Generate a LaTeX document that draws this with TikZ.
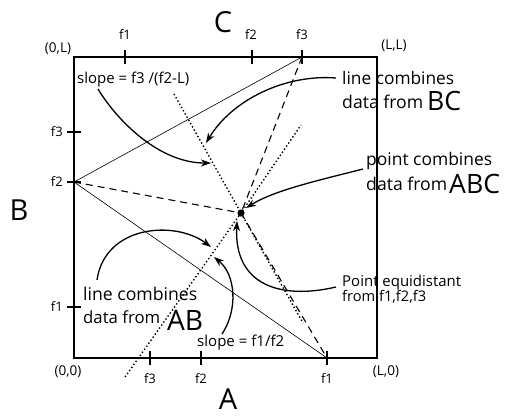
\documentclass[tikz,border=0pt]{standalone}
\usepackage{fontspec}
\usepackage{graphicx}
\setmainfont{Open Sans}
\usetikzlibrary{arrows.meta}
\newcommand{\fitw}[2]{\resizebox{#1pt}{!}{#2}}
\begin{document}
\begin{tikzpicture}[x=1pt,y=-1pt,
  boxline/.style={line width=2.6pt},
  tickline/.style={line width=2.6pt},
  thinline/.style={line width=0.6pt},
  dashline/.style={line width=1.1pt, dash pattern=on 7pt off 5pt},
  dotline/.style={line width=1.4pt, dash pattern=on 1.4pt off 2.3pt},
  callout/.style={line width=1.3pt, -{Stealth[length=10pt,width=7pt,inset=3pt]}},
  lbl/.style={font=\fontsize{13}{15}\selectfont, inner sep=0pt},
  clbl/.style={font=\fontsize{13.5}{15}\selectfont, inner sep=0pt},
  big/.style={font=\fontsize{29}{30}\selectfont, inner sep=0pt},
  txt/.style={font=\fontsize{17}{20}\selectfont, inner sep=0pt, anchor=base west},
  stxt/.style={font=\fontsize{14}{16}\selectfont, inner sep=0pt, anchor=base west},
  bigtxt/.style={font=\fontsize{27}{30}\selectfont, inner sep=0pt, anchor=base west},
]
\useasboundingbox (0,0) rectangle (505,418);

% box
\draw[boxline] (74,57) rectangle (377,358);

% key points
\coordinate (f1T) at (125,57);
\coordinate (f2T) at (252,57);
\coordinate (f3T) at (302,57);
\coordinate (f3L) at (74,132);
\coordinate (f2L) at (74,182);
\coordinate (f1L) at (74,307);
\coordinate (f3B) at (150,358);
\coordinate (f2B) at (201,358);
\coordinate (f1B) at (327,358);
\coordinate (P) at (241,213);

% ticks
\foreach \c in {f1T,f2T,f3T,f3B,f2B,f1B}
  \draw[tickline] ([yshift=-7pt]\c) -- ([yshift=7pt]\c);
\foreach \c in {f3L,f2L,f1L}
  \draw[tickline] ([xshift=-7pt]\c) -- ([xshift=7pt]\c);

% tick labels
\node[lbl] (tf1) at (125,35) {f1};
\node[lbl] (tf2) at (251,35) {f2};
\node[lbl] (tf3) at (302,35) {f3};
\node[lbl, anchor=east] (lf3) at (63,132) {f3};
\node[lbl, anchor=east] (lf2) at (63,182) {f2};
\node[lbl, anchor=east] (lf1) at (63,307) {f1};
\node[lbl] (bf3) at (150,379) {f3};
\node[lbl] (bf2) at (201,379) {f2};
\node[lbl] (bf1) at (327,379) {f1};

% corner labels
\node[clbl] (c0L) at (58,49) {(0,L)};
\node[clbl] (cLL) at (394,46) {(L,L)};
\node[clbl] (c00) at (68,372) {(0,0)};
\node[clbl] (cL0) at (386,372) {(L,0)};

% side letters
\node[big] (C) at (223,22) {C};
\node[big] (B) at (19,210) {B};
\node[big] (A) at (228,399) {A};

% thin lines
\draw[thinline] (f2L) -- (f3T);
\draw[thinline] (f2L) -- (f1B);

% dashed lines
\draw[dashline] (f2L) -- (P);
\draw[dashline] (f3T) -- (P);
\draw[dashline] (P) -- (f1B);

% dotted lines (perpendicular bisectors)
\coordinate (d1a) at (174,94);
\coordinate (d1b) at (303,323);
\coordinate (d2a) at (125,377);
\coordinate (d2b) at (301,125);
\draw[dotline] (d1a) -- (P) -- (d1b);
\draw[dotline] (d2a) -- (P) -- (d2b);

% point
\fill (P) circle (3.6pt);

% texts
\node[stxt] (s3) at (77,83) {\fitw{112}{slope = f3 /(f2-L)}};
\node[stxt] (s1) at (197,346) {\fitw{87}{slope = f1/f2}};

\node[txt] (bc1) at (342,84) {\fitw{112}{line combines}};
\node[txt] (bc2) at (342,108) {\fitw{81}{data from}};
\node[bigtxt] (bc3) at (427,110) {\fitw{34}{BC}};

\node[txt] (abc1) at (366,165) {\fitw{126}{point combines}};
\node[txt] (abc2) at (366,190) {\fitw{81}{data from}};
\node[bigtxt] (abc3) at (449,193) {\fitw{51}{ABC}};

\node[stxt] (eq1) at (342,286) {\fitw{119}{Point equidistant}};
\node[stxt] (eq2) at (342,301) {\fitw{84}{from f1,f2,f3}};

\node[txt] (ab1) at (83,300) {\fitw{114}{line combines}};
\node[txt] (ab2) at (83,323) {\fitw{77}{data from}};
\node[bigtxt] (ab3) at (167,330) {\fitw{36}{AB}};

% callout arrows
\coordinate (s3s) at (98,89);
\coordinate (s3e) at (211,163);
\draw[callout] (s3s) .. controls (118,122) and (160,163) .. (s3e);

\coordinate (bcs) at (336,78);
\coordinate (bce) at (206,143);
\draw[callout] (bcs) .. controls (285,74) and (232,100) .. (bce);

\coordinate (abcs) at (363,169);
\coordinate (abce) at (246,208);
\draw[callout] (abcs) .. controls (320,180) and (275,190) .. (abce);

\coordinate (eqs) at (336,287);
\coordinate (eqe) at (237,221);
\draw[callout] (eqs) .. controls (280,300) and (234,285) .. (eqe);

\coordinate (abs) at (97,280);
\coordinate (abe) at (211,247);
\draw[callout] (abs) .. controls (105,225) and (175,220) .. (abe);

\coordinate (s1s) at (222,334);
\coordinate (s1e) at (214,257);
\draw[callout] (s1s) .. controls (238,310) and (236,275) .. (s1e);

\end{tikzpicture}
\end{document}
